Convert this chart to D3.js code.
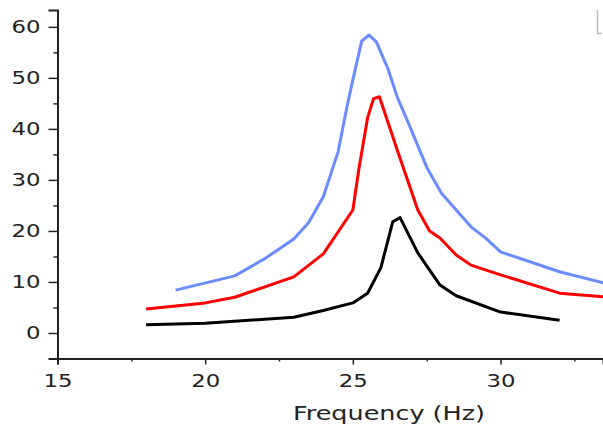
<!DOCTYPE html>
<html>
<head>
<meta charset="utf-8">
<script src="https://cdn.jsdelivr.net/npm/d3@7"></script>
<style>
  body { margin: 0; background: #fff; }
  svg { display: block; }
  .axis text { font-family: "DejaVu Sans", sans-serif; font-size: 18px; fill: #222; }
</style>
</head>
<body>
<script>
// data
var blueX  = [19.0, 21.0, 22.0, 23.0, 23.5, 24.0, 24.5, 24.8, 25.0, 25.3, 25.55, 25.8, 26.2, 26.5, 27.0, 27.5, 28.0, 29.0, 29.5, 30.0, 32.0, 33.5];
var blueY  = [8.4, 11.2, 14.5, 18.4, 21.6, 26.7, 35.5, 44.3, 49.6, 57.2, 58.4, 57.0, 51.6, 46.3, 39.5, 32.5, 27.4, 20.8, 18.6, 15.9, 12.0, 9.8];
var redX   = [18.0, 20.0, 21.0, 23.0, 24.0, 25.0, 25.2, 25.5, 25.7, 25.9, 26.5, 27.2, 27.6, 27.95, 28.5, 29.0, 30.0, 32.0, 33.5];
var redY   = [4.7, 5.9, 7.0, 11.0, 15.5, 24.1, 32.0, 42.2, 45.9, 46.3, 35.9, 24.1, 20.0, 18.6, 15.3, 13.3, 11.4, 7.8, 7.1];
var blackX = [18.0, 20.0, 23.0, 24.0, 25.0, 25.5, 25.95, 26.35, 26.6, 27.2, 27.95, 28.5, 30.0, 32.0];
var blackY = [1.6, 1.9, 3.1, 4.4, 5.9, 7.8, 12.8, 21.8, 22.6, 15.7, 9.4, 7.3, 4.1, 2.5];

var xMajor = [15, 20, 25, 30];
var xMinor = [17.5, 22.5, 27.5, 32.5];
var yMajor = [0, 10, 20, 30, 40, 50, 60];
var yMinor = [-5, 5, 15, 25, 35, 45, 55];

var width = 603, height = 430;

var svg = d3.select("body").append("svg")
    .attr("width", width)
    .attr("height", height);

var x = d3.scaleLinear().domain([15, 33.47]).range([57.5, 603]);
var y = d3.scaleLinear().domain([-5, 63.3]).range([358.5, 10]);

// y axis
var gy = svg.append("g").attr("class", "axis").attr("transform", "translate(57.5,0)");
gy.call(d3.axisLeft(y).tickValues(yMajor).tickSize(9).tickPadding(8).tickFormat(d3.format("d")));
gy.append("g").call(d3.axisLeft(y).tickValues(yMinor).tickSize(4).tickFormat(""))
    .select(".domain").remove();

// x axis
var gx = svg.append("g").attr("class", "axis").attr("transform", "translate(0,358.5)");
gx.call(d3.axisBottom(x).tickValues(xMajor).tickSize(6).tickPadding(10).tickFormat(d3.format("d")));
gx.append("g").call(d3.axisBottom(x).tickValues(xMinor).tickSize(3).tickFormat(""))
    .select(".domain").remove();

svg.selectAll(".axis .domain").attr("stroke", "#222").attr("stroke-width", 2);
svg.selectAll(".axis .tick line").attr("stroke", "#222").attr("stroke-width", 1.5);
// labels in the picture are drawn wide
svg.selectAll(".axis .tick text").filter(function(){ return this.textContent !== ""; })
    .attr("textLength", function(){ return this.textContent.length * 14.5; })
    .attr("lengthAdjust", "spacingAndGlyphs");

// axis title
svg.append("text")
    .attr("x", 389).attr("y", 420)
    .attr("text-anchor", "middle")
    .attr("font-family", "DejaVu Sans, sans-serif")
    .attr("font-size", 20)
    .attr("fill", "#222")
    .attr("textLength", 192).attr("lengthAdjust", "spacingAndGlyphs")
    .text("Frequency (Hz)");

// lines
var line = d3.line().x(function(d){ return x(d[0]); }).y(function(d){ return y(d[1]); });
var series = [
    {xs: blueX, ys: blueY, color: "#6a8cff"},
    {xs: redX, ys: redY, color: "#ff0000"},
    {xs: blackX, ys: blackY, color: "#000000"}
];
series.forEach(function(s){
    svg.append("path")
        .datum(d3.zip(s.xs, s.ys))
        .attr("fill", "none")
        .attr("stroke", s.color)
        .attr("stroke-width", 3)
        .attr("stroke-linejoin", "round")
        .attr("d", line);
});

// little grey corner mark at top right
svg.append("path")
    .attr("d", "M597.5,10 V33.5 H602")
    .attr("fill", "none")
    .attr("stroke", "#bbb")
    .attr("stroke-width", 1.5);
</script>
</body>
</html>
